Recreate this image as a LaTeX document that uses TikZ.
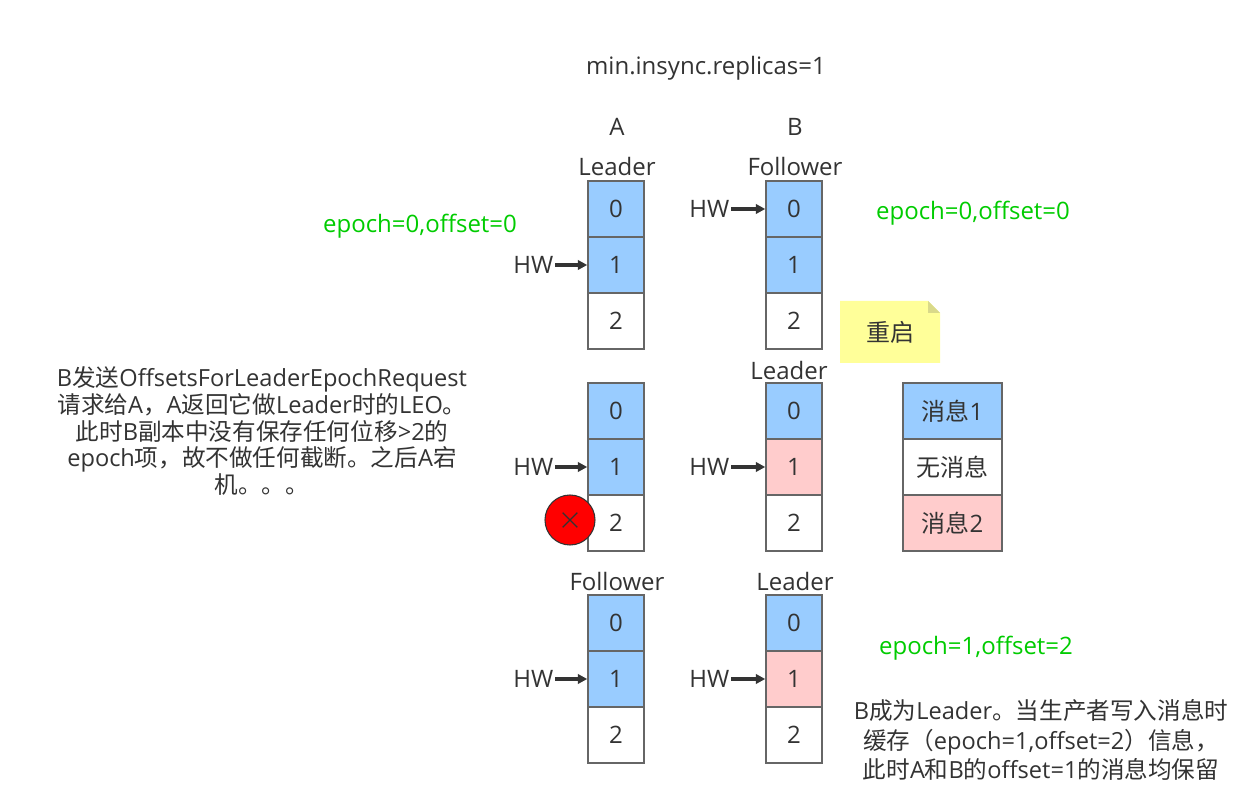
\documentclass[tikz,border=0pt]{standalone}
\usepackage{fontspec}
\setmainfont{Open Sans}
\newfontfamily\cjk{Noto Sans CJK SC}
\newcommand\zh[1]{{\cjk #1}}
\usetikzlibrary{arrows.meta}
\definecolor{txt}{HTML}{333333}
\definecolor{bord}{HTML}{666666}
\definecolor{cblue}{HTML}{99CCFF}
\definecolor{cpink}{HTML}{FFCCCC}
\definecolor{cgreen}{HTML}{00CC00}
\definecolor{notey}{HTML}{FFFF99}
\definecolor{notefold}{HTML}{D9D98A}
\tikzset{
  base/.style={font=\fontsize{18}{20}\selectfont, text=txt, inner sep=1pt},
  cell/.style={base, draw=bord, line width=1.1pt, minimum width=42pt, minimum height=42pt, inner sep=0pt},
  blue/.style={cell, fill=cblue},
  pink/.style={cell, fill=cpink},
  white/.style={cell, fill=white},
  legendbox/.style={cell, minimum width=74.25pt},
  lbl/.style={base},
  green/.style={base, text=cgreen},
  hwarrow/.style={draw=txt, line width=2.4pt, -{Triangle[length=7pt,width=7pt]}},
}
\begin{document}
\begin{tikzpicture}[x=0.75pt,y=-0.75pt]
\useasboundingbox[fill=white] (0,0) rectangle (1254,805);

\node[lbl] (title) at (706,68) {min.insync.replicas=1};
\node[lbl] (colA) at (617,127) {A};
\node[lbl] (colB) at (795,127) {B};

% row 1
\node[lbl] (r1a) at (617,167) {Leader};
\node[lbl] (r1b) at (795,167) {Follower};
\node[blue]  (a10) at (616,209) {0};
\node[blue]  (a11) at (616,265) {1};
\node[white] (a12) at (616,321) {2};
\node[blue]  (b10) at (794,209) {0};
\node[blue]  (b11) at (794,265) {1};
\node[white] (b12) at (794,321) {2};
\node[lbl,anchor=east] (hwa1) at (555,265) {HW};
\node[lbl,anchor=east] (hwb1) at (731,209) {HW};
\draw[hwarrow] (hwa1.east) -- (a11.west);
\draw[hwarrow] (hwb1.east) -- (b10.west);
\node[green] (g1) at (420,226) {epoch=0,offset=0};
\node[green] (g2) at (973,213) {epoch=0,offset=0};

% note
\node[base, minimum width=75pt, minimum height=46.5pt, inner sep=0pt,
  path picture={
    \fill[notey] (path picture bounding box.south west) -- (path picture bounding box.north west)
      -- ([xshift=-9pt]path picture bounding box.north east) -- ([yshift=-9pt]path picture bounding box.north east)
      -- (path picture bounding box.south east) -- cycle;
    \fill[notefold] ([xshift=-9pt]path picture bounding box.north east) -- ([xshift=-9pt,yshift=-9pt]path picture bounding box.north east)
      -- ([yshift=-9pt]path picture bounding box.north east) -- cycle;
  }] (note) at (890,332) {\zh{重启}};

% row 2
\node[lbl] (r2b) at (789,371) {Leader};
\node[blue]  (a20) at (616,411) {0};
\node[blue]  (a21) at (616,467) {1};
\node[white] (a22) at (616,523) {2};
\node[blue]  (b20) at (794,411) {0};
\node[pink]  (b21) at (794,467) {1};
\node[white] (b22) at (794,523) {2};
\node[lbl,anchor=east] (hwa2) at (555,467) {HW};
\node[lbl,anchor=east] (hwb2) at (731,467) {HW};
\draw[hwarrow] (hwa2.east) -- (a21.west);
\draw[hwarrow] (hwb2.east) -- (b21.west);
\node[circle, fill=red, draw=txt, line width=0.8pt, minimum size=37.5pt, inner sep=0pt] (x) at (570,520) {};
\draw[txt, line width=0.9pt] ([xshift=-5.5pt,yshift=-5.5pt]x.center) -- ([xshift=5.5pt,yshift=5.5pt]x.center);
\draw[txt, line width=0.9pt] ([xshift=-5.5pt,yshift=5.5pt]x.center) -- ([xshift=5.5pt,yshift=-5.5pt]x.center);

\node[base, align=center, font=\fontsize{17.7}{19.9}\selectfont] (desc1) at (262,431) {%
B\zh{发送}OffsetsForLeaderEpochRequest\\
\zh{请求给}A\zh{，}A\zh{返回它做}Leader\zh{时的}LEO\zh{。}\\
\zh{此时}B\zh{副本中没有保存任何位移}>2\zh{的}\\
epoch\zh{项，故不做任何截断。之后}A\zh{宕}\\
\zh{机。。。}};

% legend
\node[legendbox, fill=cblue] (l1) at (952.5,411) {\zh{消息}1};
\node[legendbox, fill=white] (l2) at (952.5,467) {\zh{无消息}};
\node[legendbox, fill=cpink] (l3) at (952.5,523) {\zh{消息}2};

% row 3
\node[lbl] (r3a) at (617,581) {Follower};
\node[lbl] (r3b) at (795,581) {Leader};
\node[blue]  (a30) at (616,623) {0};
\node[blue]  (a31) at (616,679) {1};
\node[white] (a32) at (616,735) {2};
\node[blue]  (b30) at (794,623) {0};
\node[pink]  (b31) at (794,679) {1};
\node[white] (b32) at (794,735) {2};
\node[lbl,anchor=east] (hwa3) at (555,679) {HW};
\node[lbl,anchor=east] (hwb3) at (731,679) {HW};
\draw[hwarrow] (hwa3.east) -- (a31.west);
\draw[hwarrow] (hwb3.east) -- (b31.west);
\node[green] (g3) at (976,648) {epoch=1,offset=2};

\node[base, align=center, font=\fontsize{17.7}{22}\selectfont] (desc2) at (1041,740) {%
B\zh{成为}Leader\zh{。当生产者写入消息时}\\
\zh{缓存（}epoch=1,offset=2\zh{）信息，}\\
\zh{此时}A\zh{和}B\zh{的}offset=1\zh{的消息均保留}};
\end{tikzpicture}
\end{document}
